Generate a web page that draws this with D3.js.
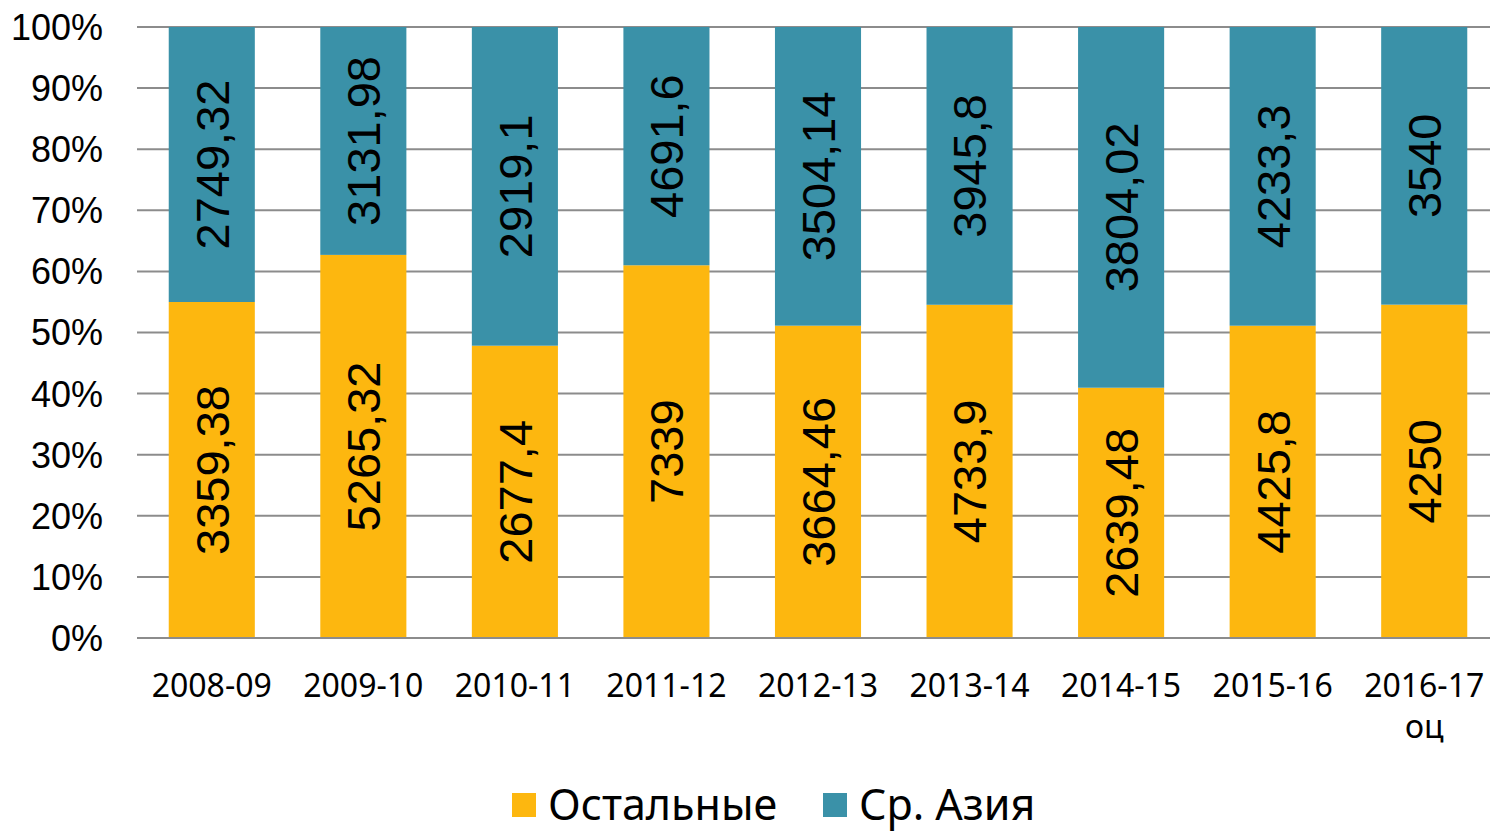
<!DOCTYPE html>
<html>
<head>
<meta charset="utf-8">
<script src="https://cdn.jsdelivr.net/npm/d3@7"></script>
<style>
  body { margin: 0; background: #fff; }
</style>
</head>
<body>
<div id="chart"></div>
<script>
var years = ["2008-09", "2009-10", "2010-11", "2011-12", "2012-13", "2013-14", "2014-15", "2015-16", "2016-17 оц"];
var others = [3359.38, 5265.32, 2677.4, 7339, 3664.46, 4733.9, 2639.48, 4425.8, 4250];
var asia = [2749.32, 3131.98, 2919.1, 4691.6, 3504.14, 3945.8, 3804.02, 4233.3, 3540];
var seriesNames = ["Остальные", "Ср. Азия"];
var colors = ["#FDB70F", "#3A91A8"];
var yTicks = [0, 0.1, 0.2, 0.3, 0.4, 0.5, 0.6, 0.7, 0.8, 0.9, 1];

var w = 1490, h = 833;
var plotLeft = 136, plotRight = 1500, plotTop = 27, plotBottom = 638;

var svg = d3.select("#chart").append("svg")
  .attr("width", w)
  .attr("height", h);

var x = d3.scaleBand()
  .domain(years)
  .range([plotLeft, plotRight])
  .paddingInner(0.432)
  .paddingOuter(0.216);

var y = d3.scaleLinear().domain([0, 1]).range([plotBottom, plotTop]);

// gridlines
svg.append("g").selectAll("line")
  .data(yTicks)
  .enter().append("line")
  .attr("x1", plotLeft + 1)
  .attr("x2", w)
  .attr("y1", function(d) { return y(d); })
  .attr("y2", function(d) { return y(d); })
  .attr("stroke", "#8c8c8c")
  .attr("stroke-width", 2);

// y labels
svg.append("g").selectAll("text")
  .data(yTicks)
  .enter().append("text")
  .attr("x", 103)
  .attr("y", function(d) { return y(d); })
  .attr("dy", "0.36em")
  .attr("text-anchor", "end")
  .attr("font-family", "Liberation Sans, Arial, sans-serif")
  .attr("font-size", 36)
  .attr("fill", "#000")
  .text(function(d) { return Math.round(d * 100) + "%"; });

var rows = years.map(function(yr, i) {
  var tot = others[i] + asia[i];
  return [
    { year: yr, v: others[i], y0: 0, y1: others[i] / tot, s: 0 },
    { year: yr, v: asia[i], y0: others[i] / tot, y1: 1, s: 1 }
  ];
});
var segs = d3.merge(rows);

var fmt = function(v) { return String(v).replace(".", ","); };

svg.append("g").selectAll("rect")
  .data(segs)
  .enter().append("rect")
  .attr("x", function(d) { return x(d.year); })
  .attr("width", x.bandwidth())
  .attr("y", function(d) { return y(d.y1); })
  .attr("height", function(d) { return y(d.y0) - y(d.y1); })
  .attr("fill", function(d) { return colors[d.s]; });

svg.append("g").selectAll("text")
  .data(segs)
  .enter().append("text")
  .attr("transform", function(d) {
    var cx = x(d.year) + x.bandwidth() / 2;
    var cy = (y(d.y0) + y(d.y1)) / 2;
    return "translate(" + cx + "," + cy + ") rotate(-90)";
  })
  .attr("text-anchor", "middle")
  .attr("dy", "0.36em")
  .attr("font-family", "Liberation Sans, Arial, sans-serif")
  .attr("font-size", 47)
  .attr("fill", "#000")
  .text(function(d) { return fmt(d.v); });

// bottom axis line on top of bars
svg.append("line")
  .attr("x1", plotLeft + 1).attr("x2", w)
  .attr("y1", plotBottom).attr("y2", plotBottom)
  .attr("stroke", "#8c8c8c").attr("stroke-width", 2);

// x labels (second line for "оц")
var xl = svg.append("g").selectAll("text")
  .data(years)
  .enter().append("text")
  .attr("x", function(d) { return x(d) + x.bandwidth() / 2; })
  .attr("y", 697)
  .attr("text-anchor", "middle")
  .attr("font-family", "Noto Sans, Open Sans, sans-serif")
  .attr("font-size", 32)
  .attr("fill", "#000");
xl.each(function(d) {
  var parts = d.split(" ");
  var t = d3.select(this);
  parts.forEach(function(p, k) {
    t.append("tspan")
      .attr("x", x(d) + x.bandwidth() / 2)
      .attr("dy", k === 0 ? 0 : 41)
      .text(p);
  });
});

// legend
var legX = [512, 823];
var leg = svg.append("g").selectAll("g")
  .data(seriesNames)
  .enter().append("g")
  .attr("transform", function(d, i) { return "translate(" + legX[i] + ",793)"; });
leg.append("rect")
  .attr("width", 24).attr("height", 24)
  .attr("fill", function(d, i) { return colors[i]; });
leg.append("text")
  .attr("x", 36)
  .attr("y", 12)
  .attr("dy", "0.36em")
  .attr("font-family", "Noto Sans, Open Sans, sans-serif")
  .attr("font-size", 43)
  .attr("fill", "#000")
  .text(function(d) { return d; });
</script>
</body>
</html>
